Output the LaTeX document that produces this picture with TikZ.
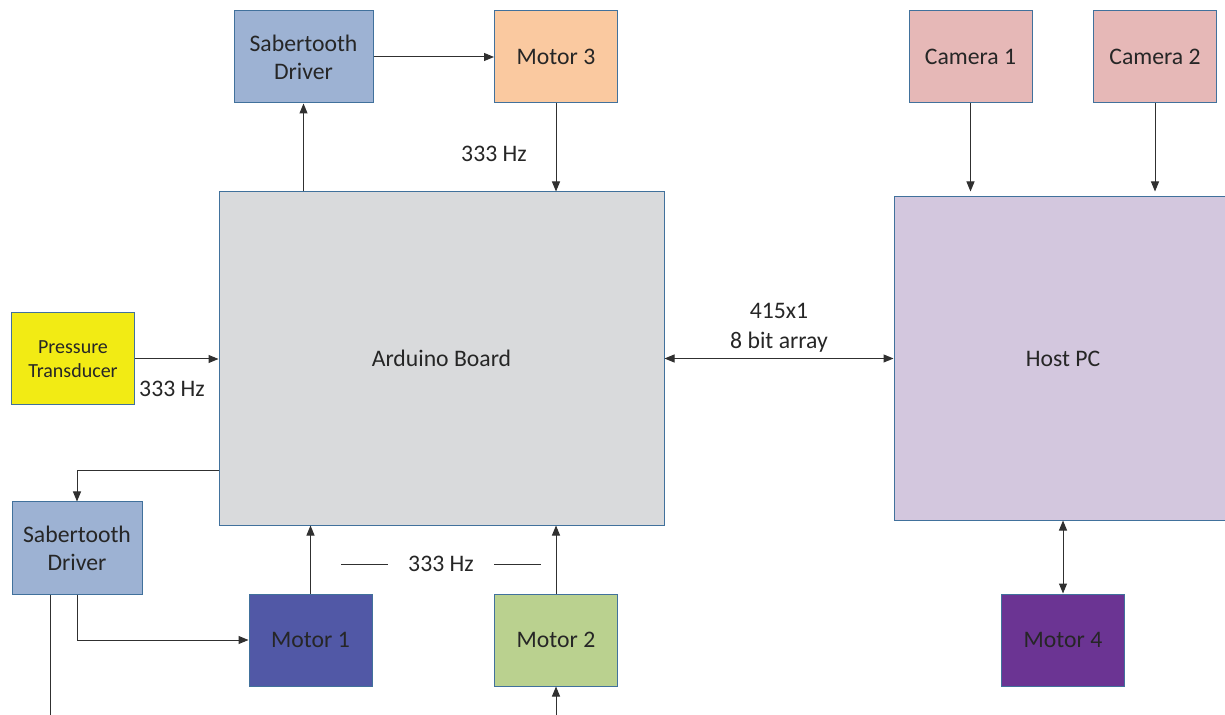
\documentclass[tikz,border=0pt]{standalone}
\usepackage{fontspec}
\setmainfont{Carlito}
\usetikzlibrary{arrows.meta}
\definecolor{edge}{HTML}{41719C}
\definecolor{txt}{HTML}{262626}
\definecolor{wirecol}{HTML}{303030}
\definecolor{saber}{HTML}{9DB2D3}
\definecolor{peach}{HTML}{FAC9A0}
\definecolor{rose}{HTML}{E6B8B7}
\definecolor{board}{HTML}{D9DADC}
\definecolor{host}{HTML}{D3C7DE}
\definecolor{yel}{HTML}{F2EB14}
\definecolor{motone}{HTML}{5158A6}
\definecolor{mottwo}{HTML}{BAD18F}
\definecolor{motfour}{HTML}{6B3493}

\begin{document}
\begin{tikzpicture}[x=0.5pt, y=-0.5pt, font=\fontsize{11.85}{14}\selectfont,
    blk/.style={draw=edge, line width=0.5pt, inner sep=0pt, align=center, text=txt,
        minimum width=61.5pt, minimum height=46pt},
    lbl/.style={inner sep=0pt, align=center, text=txt},
    wire/.style={line width=0.5pt, draw=wirecol},
    tip/.style={-{Triangle[length=5pt, width=4pt]}},
    tips/.style={{Triangle[length=5pt, width=4pt]}-{Triangle[length=5pt, width=4pt]}}]
            \useasboundingbox (0,0) rectangle (1225,715);
            \node[blk, fill=saber, minimum width=69.5pt] (drvA) at (303.5,57) {Sabertooth\\Driver};
            \node[blk, fill=peach] (motC) at (556,57) {Motor 3};
            \node[blk, fill=rose] (camA) at (970.5,57) {Camera 1};
            \node[blk, fill=rose] (camB) at (1155,57) {Camera 2};
            \node[blk, fill=board, minimum width=222.5pt, minimum height=166.5pt] (ard) at (441.5,358.5) {Arduino Board};
            \node[blk, fill=host, minimum width=169pt, minimum height=161.5pt] (pc) at (1063,358.5) {Host PC};
            \node[blk, fill=yel, font=\fontsize{10}{12}\selectfont] (sens) at (73,359) {Pressure\\Transducer};
            \node[blk, fill=saber, minimum width=65pt] (drvB) at (77,548) {Sabertooth\\Driver};
            \node[blk, fill=motone] (motA) at (310.5,640) {Motor 1};
            \node[blk, fill=mottwo] (motB) at (556,640) {Motor 2};
            \node[blk, fill=motfour] (motD) at (1063,640) {Motor 4};
            \node[lbl] (hzC) at (494,154) {333 Hz};
            \node[lbl] (hzS) at (172,389) {333 Hz};
            \node[lbl] (hzAB) at (441,564) {333 Hz};
            \node[lbl, font=\fontsize{11.85}{15}\selectfont] (bits) at (779,328) {415x1\\8 bit array};
            \coordinate (outA) at (50,715);
            \coordinate (inB) at (556,715);
            \draw[wire, tip] (ard.north -| drvA) -- (drvA.south);
            \draw[wire, tip] (drvA.east) -- (motC.west);
            \draw[wire, tip] (motC.south) -- (ard.north -| motC);
            \draw[wire, tip] (camA.south) -- ([yshift=2.5pt]pc.north -| camA);
            \draw[wire, tip] (camB.south) -- ([yshift=2.5pt]pc.north -| camB);
            \draw[wire, tip] (sens.east) -- (sens.east -| ard.west);
            \draw[wire, tips] (ard.east) -- (pc.west);
            \draw[wire, tip] ([yshift=-56.25pt]ard.west) -| (drvB.north);
            \draw[wire, tip] (drvB.south) |- (motA.west);
            \draw[wire] (drvB.south -| outA) -- (outA);
            \draw[wire, tip] (motA.north) -- (motA.north |- ard.south);
            \draw[wire, tip] (motB.north) -- (motB.north |- ard.south);
            \draw[wire, tip] (inB) -- (motB.south);
            \draw[wire, tips] (pc.south -| motD) -- (motD.north);
            \draw[wire] ([xshift=-10pt]hzAB.west) -- ++(-47,0);
            \draw[wire] ([xshift=10pt]hzAB.east) -- ++(47,0);
        \end{tikzpicture}
\end{document}
